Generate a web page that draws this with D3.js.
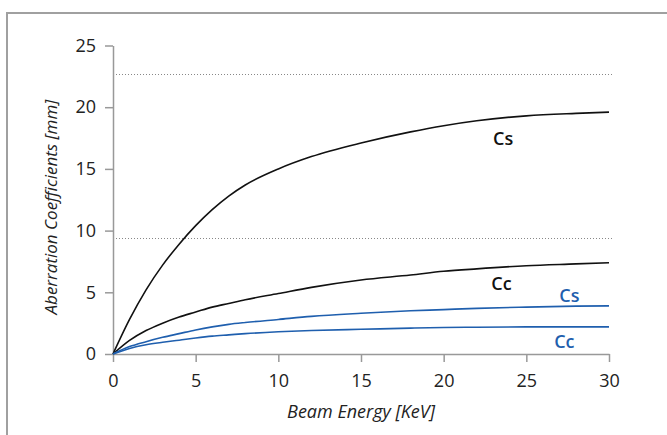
<!DOCTYPE html>
<html>
<head>
<meta charset="utf-8">
<script src="https://cdn.jsdelivr.net/npm/d3@7"></script>
<style>
  body { margin: 0; background: #fff; }
  svg text { font-family: "Open Sans", "Noto Sans", sans-serif; }
</style>
</head>
<body>
<script>
var w = 667;
var h = 435;

// beam energy (keV)
var energy = [0, 1, 2, 3, 4, 5, 6, 7, 8, 10, 12, 15, 18, 20, 22, 25, 28, 30];
var csBlack = [0, 2.8, 5.2, 7.2, 8.9, 10.4, 11.7, 12.8, 13.7, 15.0, 16.0, 17.1, 18.0, 18.5, 18.9, 19.3, 19.5, 19.6];
var ccBlack = [0, 1.1, 1.9, 2.5, 3.0, 3.4, 3.8, 4.1, 4.4, 4.9, 5.4, 6.0, 6.4, 6.7, 6.9, 7.15, 7.3, 7.4];
var csBlue = [0, 0.6, 1.0, 1.35, 1.65, 1.95, 2.2, 2.4, 2.55, 2.8, 3.05, 3.3, 3.5, 3.6, 3.7, 3.8, 3.88, 3.9];
var ccBlue = [0, 0.45, 0.75, 0.95, 1.12, 1.3, 1.45, 1.55, 1.65, 1.8, 1.9, 2.0, 2.1, 2.15, 2.17, 2.2, 2.2, 2.2];

var refLines = [22.7, 9.4];
var xTicks = [0, 5, 10, 15, 20, 25, 30];
var yTicks = [0, 5, 10, 15, 20, 25];

var labels = [
  { text: 'Cs', x: 23.6, y: 17.3, color: '#111' },
  { text: 'Cc', x: 23.5, y: 5.6, color: '#111' },
  { text: 'Cs', x: 27.6, y: 4.6, color: '#1f5fae' },
  { text: 'Cc', x: 27.3, y: 0.9, color: '#1f5fae' }
];

var series = [
  { values: csBlack, color: '#111' },
  { values: ccBlack, color: '#111' },
  { values: csBlue, color: '#1f5fae' },
  { values: ccBlue, color: '#1f5fae' }
];

var svg = d3.select('body')
  .append('svg')
  .attr('width', w)
  .attr('height', h);

// outer frame (top and left edges visible)
svg.append('path')
  .attr('d', 'M7,' + h + 'V13H' + w)
  .attr('fill', 'none')
  .attr('stroke', '#a0a0a0')
  .attr('stroke-width', 2);

var x = d3.scaleLinear().domain([0, 30]).range([113, 609]);
var y = d3.scaleLinear().domain([0, 25]).range([354, 45.5]);

// dotted reference lines
svg.selectAll('.ref')
  .data(refLines)
  .enter()
  .append('line')
  .attr('x1', x(0))
  .attr('x2', x(30) + 3)
  .attr('y1', function (d) { return Math.round(y(d)) + 0.5; })
  .attr('y2', function (d) { return Math.round(y(d)) + 0.5; })
  .attr('stroke', '#888')
  .attr('stroke-width', 1)
  .attr('stroke-dasharray', '1,2');

// axes
var xAxis = d3.axisBottom(x).tickValues(xTicks).tickSize(8).tickSizeOuter(0).tickPadding(12);
var yAxis = d3.axisLeft(y).tickValues(yTicks).tickSize(8).tickSizeOuter(0).tickPadding(9);

var gx = svg.append('g')
  .attr('transform', 'translate(0,' + y(0) + ')')
  .call(xAxis);
var gy = svg.append('g')
  .attr('transform', 'translate(' + x(0) + ',0)')
  .call(yAxis);

[gx, gy].forEach(function (g) {
  g.attr('font-size', 18).attr('font-family', '"Open Sans", "Noto Sans", sans-serif');
  g.select('.domain').attr('stroke', '#999').attr('stroke-width', 1.5);
  g.selectAll('.tick line').attr('stroke', '#999').attr('stroke-width', 1.5);
  g.selectAll('.tick text')
    .attr('fill', '#222')
    .attr('font-size', 18);
});

// curves
var line = d3.line()
  .x(function (d, i) { return x(energy[i]); })
  .y(function (d) { return y(d); })
  .curve(d3.curveMonotoneX);

svg.selectAll('.curve')
  .data(series)
  .enter()
  .append('path')
  .attr('d', function (d) { return line(d.values); })
  .attr('fill', 'none')
  .attr('stroke', function (d) { return d.color; })
  .attr('stroke-width', 1.6);

// curve labels
svg.selectAll('.lbl')
  .data(labels)
  .enter()
  .append('text')
  .attr('x', function (d) { return x(d.x); })
  .attr('y', function (d) { return y(d.y); })
  .attr('text-anchor', 'middle')
  .attr('dominant-baseline', 'middle')
  .attr('fill', function (d) { return d.color; })
  .attr('font-size', 18)
  .attr('font-weight', 600)
  .text(function (d) { return d.text; });

// axis titles
svg.append('text')
  .attr('x', x(15))
  .attr('y', 418)
  .attr('text-anchor', 'middle')
  .attr('fill', '#222')
  .attr('font-size', 18)
  .attr('font-style', 'italic')
  .text('Beam Energy [KeV]');

svg.append('text')
  .attr('transform', 'translate(57,' + y(11.9) + ') rotate(-90)')
  .attr('text-anchor', 'middle')
  .attr('fill', '#222')
  .attr('font-size', 17)
  .attr('font-style', 'italic')
  .text('Aberration Coefficients [mm]');
</script>
</body>
</html>
